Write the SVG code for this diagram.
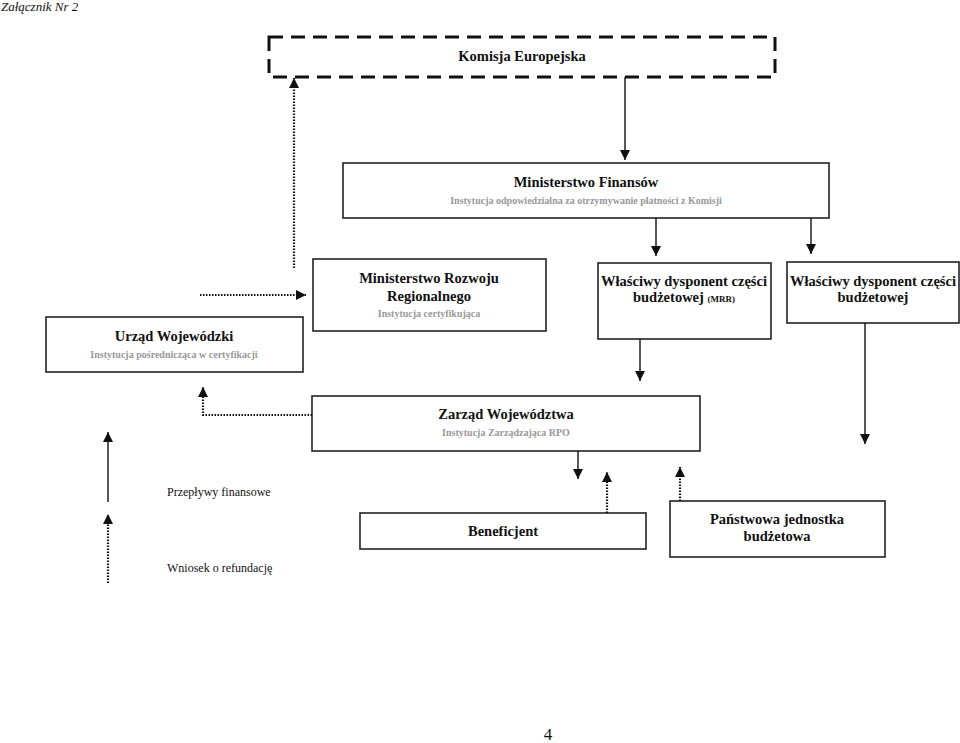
<svg xmlns="http://www.w3.org/2000/svg" width="960" height="743" viewBox="0 0 960 743">
<defs>
<style>
.box{fill:#fff;stroke:#222;stroke-width:1.6}
.t{font-family:"Liberation Serif",serif;font-weight:bold;font-size:14.5px;fill:#111;text-anchor:middle}
.s{font-family:"Liberation Serif",serif;font-weight:bold;font-size:10px;fill:#999;text-anchor:middle}
.n{font-family:"Liberation Serif",serif;font-size:12px;fill:#111}
.sol{fill:none;stroke:#111;stroke-width:1.4}
.dot{fill:none;stroke:#111;stroke-width:2.2;stroke-dasharray:1.5 1.5}
</style>
<marker id="ah" viewBox="0 0 10 10" refX="10" refY="5" markerWidth="10" markerHeight="10" markerUnits="userSpaceOnUse" orient="auto">
<path d="M0,0 L10,5 L0,10 z" fill="#111"/>
</marker>
</defs>
<rect width="960" height="743" fill="#fff"/>
<text x="1" y="11" style="font-family:'Liberation Serif',serif;font-style:italic;font-size:13px" fill="#111">Załącznik Nr 2</text>

<g id="ke">
<rect x="269" y="37" width="506" height="40" fill="#fff" stroke="#111" stroke-width="3" stroke-dasharray="14 8"/>
<text class="t" x="522" y="61">Komisja Europejska</text>
</g>
<g id="mf">
<rect class="box" x="343" y="163" width="486" height="55"/>
<text class="t" x="586" y="187">Ministerstwo Finansów</text>
<text class="s" x="586" y="204">Instytucja odpowiedzialna za otrzymywanie płatności z Komisji</text>
</g>
<g id="mrr">
<rect class="box" x="313" y="259" width="233" height="72"/>
<text class="t" x="429" y="283">Ministerstwo Rozwoju</text>
<text class="t" x="429" y="301">Regionalnego</text>
<text class="s" x="429" y="317">Instytucja certyfikująca</text>
</g>
<g id="wdcb-mrr">
<rect class="box" x="598" y="263" width="173" height="76"/>
<text class="t" x="684" y="286">Właściwy dysponent części</text>
<text class="t" x="684" y="302">budżetowej <tspan font-size="9">(MRR)</tspan></text>
</g>
<g id="wdcb">
<rect class="box" x="787" y="262" width="172" height="61"/>
<text class="t" x="873" y="286">Właściwy dysponent części</text>
<text class="t" x="873" y="302">budżetowej</text>
</g>
<g id="uw">
<rect class="box" x="46" y="317" width="257" height="55"/>
<text class="t" x="174" y="341">Urząd Wojewódzki</text>
<text class="s" x="174" y="358">Instytucja pośrednicząca w certyfikacji</text>
</g>
<g id="zw">
<rect class="box" x="312" y="396" width="388" height="55"/>
<text class="t" x="506" y="419">Zarząd Województwa</text>
<text class="s" x="506" y="436">Instytucja Zarządzająca RPO</text>
</g>
<g id="ben">
<rect class="box" x="360" y="513" width="286" height="36"/>
<text class="t" x="503" y="536">Beneficjent</text>
</g>
<g id="pjb">
<rect class="box" x="670" y="501" width="215" height="56"/>
<text class="t" x="777" y="524">Państwowa jednostka</text>
<text class="t" x="777" y="541">budżetowa</text>
</g>

<g id="connectors">
<line class="sol" x1="625" y1="77" x2="625" y2="160" marker-end="url(#ah)"/>
<line class="dot" x1="294" y1="268" x2="294" y2="78" marker-end="url(#ah)"/>
<line class="sol" x1="656" y1="218" x2="656" y2="256" marker-end="url(#ah)"/>
<line class="sol" x1="811" y1="218" x2="811" y2="254" marker-end="url(#ah)"/>
<line class="dot" x1="200" y1="295" x2="306" y2="295" marker-end="url(#ah)"/>
<line class="sol" x1="640" y1="339" x2="640" y2="381" marker-end="url(#ah)"/>
<polyline class="dot" points="312,415 203,415 203,387" marker-end="url(#ah)"/>
<line class="sol" x1="865" y1="323" x2="865" y2="444" marker-end="url(#ah)"/>
<line class="sol" x1="578" y1="451" x2="578" y2="479" marker-end="url(#ah)"/>
<line class="dot" x1="607" y1="513" x2="607" y2="472" marker-end="url(#ah)"/>
<line class="dot" x1="680" y1="501" x2="680" y2="467" marker-end="url(#ah)"/>
<line class="sol" x1="108" y1="502" x2="108" y2="432" marker-end="url(#ah)"/>
<line class="dot" x1="108" y1="583" x2="108" y2="514" marker-end="url(#ah)"/>
</g>
<text class="n" x="167" y="496">Przepływy finansowe</text>
<text class="n" x="167" y="572">Wniosek o refundację</text>
<text x="548" y="740" style="font-family:'Liberation Serif',serif;font-size:17px" fill="#111" text-anchor="middle">4</text>
</svg>
